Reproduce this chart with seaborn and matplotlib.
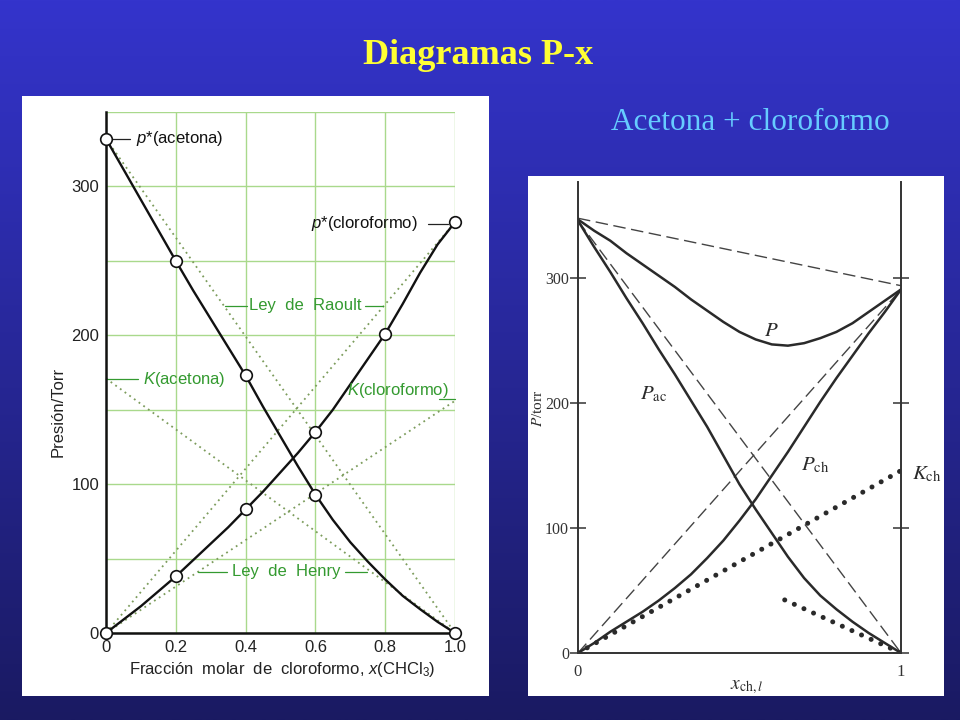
import numpy as np
import pandas as pd
import matplotlib
matplotlib.use("Agg")
import matplotlib.pyplot as plt
import seaborn as sns
from matplotlib.patches import Rectangle
from matplotlib.colors import LinearSegmentedColormap

sns.set_theme(style="white")
plt.rcParams["font.family"] = ["Liberation Sans", "DejaVu Sans"]
plt.rcParams["mathtext.fontset"] = "custom"
plt.rcParams["mathtext.rm"] = "Liberation Sans"
plt.rcParams["mathtext.it"] = "Liberation Sans:italic"

# ---------------- data: left panel (Torr vs x(CHCl3)) ----------------
x_left = [0.0, 0.05, 0.1, 0.15, 0.2, 0.25, 0.3, 0.35, 0.4, 0.45, 0.5,
          0.55, 0.6, 0.65, 0.7, 0.75, 0.8, 0.85, 0.9, 0.95, 1.0]
p_acetona = [332, 311.5, 291, 270.5, 250, 230, 211, 192, 173, 152, 132,
             112, 93, 76, 61, 48, 36, 25, 16, 7.5, 0]
p_cloroformo = [0, 9, 18, 28, 38, 49, 60, 71, 83, 95, 108,
                121, 135, 150, 167, 184, 201, 221, 242, 261, 276]
mark_x_ac = [0.0, 0.2, 0.4, 0.6, 1.0]
mark_p_ac = [332, 250, 173, 93, 0]
mark_x_ch = [0.0, 0.2, 0.4, 0.6, 0.8, 1.0]
mark_p_ch = [0, 38, 83, 135, 201, 276]
k_acetona = 171
k_cloroformo = 156
left_xticks = [0.0, 0.2, 0.4, 0.6, 0.8, 1.0]
left_xticklabels = ["0", "0.2", "0.4", "0.6", "0.8", "1.0"]
left_yticks = [0, 100, 200, 300]
left_yminor = [50, 150, 250, 350]

# ---------------- data: right panel (torr vs x_ch) ----------------
x_right = [0.0, 0.05, 0.1, 0.15, 0.2, 0.25, 0.3, 0.35, 0.4, 0.45, 0.5,
           0.55, 0.6, 0.65, 0.7, 0.75, 0.8, 0.85, 0.9, 0.95, 1.0]
P_total = [347, 338, 330, 320, 311, 302, 293, 283, 274, 265, 257,
           251, 247, 246, 248, 252, 257, 264, 273, 282, 291]
P_ac = [346, 325, 305, 284, 264, 243, 223, 202, 181, 158, 135,
        115, 96, 77, 60, 46, 35, 25, 16, 8, 0]
P_ch = [0, 8, 17, 25, 33, 42, 52, 63, 76, 90, 106,
        123, 142, 161, 181, 201, 220, 238, 256, 273, 291]
P_ideal_ends = [348, 294]
K_ch = 146
K_ac = 118
K_ac_start = 0.64
right_yticks = [0, 100, 200, 300]

# ---------------- figure & background ----------------
fig = plt.figure(figsize=(9.6, 7.2), dpi=100)
bg = fig.add_axes([0, 0, 1, 1], zorder=-10)
grad = np.linspace(0, 1, 256).reshape(-1, 1)
cmap = LinearSegmentedColormap.from_list("bg", ["#3434cc", "#1a1a62"])
bg.imshow(grad, aspect="auto", cmap=cmap, extent=[0, 1, 0, 1], origin="upper")
bg.axis("off")

fig.add_artist(Rectangle((22 / 960, 24 / 720), 467 / 960, 600 / 720,
                         transform=fig.transFigure, facecolor="white",
                         edgecolor="none", zorder=-5))
fig.add_artist(Rectangle((528 / 960, 24 / 720), 416 / 960, 520 / 720,
                         transform=fig.transFigure, facecolor="white",
                         edgecolor="none", zorder=-5))

fig.text(478 / 960, 1 - 64 / 720, "Diagramas P-x", family="Liberation Serif",
         weight="bold", color="#ffff33", fontsize=26, ha="center", va="baseline")
fig.text(750 / 960, 1 - 123 / 720, "Acetona + cloroformo", family="Liberation Serif",
         color="#66ccff", fontsize=22.5, ha="center", va="center")

# ---------------- left panel ----------------
ax1 = fig.add_axes([106 / 960, 87 / 720, 349 / 960, 521 / 720])
ax1.set_facecolor("none")
ax1.set_xlim(0, 1)
ax1.set_ylim(0, 350)
ax1.set_axisbelow(True)
ax1.set_xticks(left_xticks)
ax1.set_xticklabels(left_xticklabels)
ax1.set_yticks(left_yticks)
ax1.set_yticks(left_yminor, minor=True)
ax1.grid(True, which="both", color="#a9d98c", lw=1.0)
ax1.tick_params(length=0, labelsize=12, colors="#222222", pad=5)
ax1.tick_params(axis="y", which="minor", length=0)
for s in ["top", "right"]:
    ax1.spines[s].set_visible(False)
for s in ["left", "bottom"]:
    ax1.spines[s].set_color("#111111")
    ax1.spines[s].set_linewidth(1.8)

dotc = "#7c9c5c"
dotls = (0, (1, 2.2))
df_r1 = pd.DataFrame({"x": [0, 1], "p": [p_acetona[0], 0]})
df_r2 = pd.DataFrame({"x": [0, 1], "p": [0, p_cloroformo[-1]]})
df_h1 = pd.DataFrame({"x": [0, 1], "p": [k_acetona, 0]})
df_h2 = pd.DataFrame({"x": [0, 1], "p": [0, k_cloroformo]})
for d in (df_r1, df_r2, df_h1, df_h2):
    sns.lineplot(data=d, x="x", y="p", ax=ax1, color=dotc, lw=1.3,
                 linestyle=dotls, estimator=None, sort=False, clip_on=False)

df_ac = pd.DataFrame({"x": x_left, "p": p_acetona})
df_ch = pd.DataFrame({"x": x_left, "p": p_cloroformo})
for d in (df_ac, df_ch):
    sns.lineplot(data=d, x="x", y="p", ax=ax1, color="#111111", lw=1.7,
                 estimator=None, sort=False, clip_on=False)
sns.scatterplot(x=mark_x_ac, y=mark_p_ac, ax=ax1, s=70, facecolor="white",
                edgecolor="#111111", linewidth=1.2, zorder=5, clip_on=False)
sns.scatterplot(x=mark_x_ch, y=mark_p_ch, ax=ax1, s=70, facecolor="white",
                edgecolor="#111111", linewidth=1.2, zorder=5, clip_on=False)

green = "#349a30"
def leader(ax, x0, x1, y, c):
    ax.plot([x0, x1], [y, y], color=c, lw=0.9, clip_on=False)

leader(ax1, 0.003, 0.069, 332, "#222222")
ax1.text(0.085, 332, r"$p$*(acetona)", fontsize=12, va="center", ha="left",
         color="#111111", math_fontfamily="custom")
leader(ax1, 0.923, 0.98, 275, "#222222")
ax1.text(0.894, 275, r"$p$*(cloroformo)", fontsize=12, va="center", ha="right",
         color="#111111", math_fontfamily="custom")
leader(ax1, 0.341, 0.404, 220, green)
ax1.text(0.410, 220, "Ley  de  Raoult", fontsize=12, va="center", ha="left", color=green)
leader(ax1, 0.742, 0.794, 220, green)
leader(ax1, 0.003, 0.092, 170.5, green)
ax1.text(0.107, 170.5, r"$K$(acetona)", fontsize=12, va="center", ha="left",
         color=green, math_fontfamily="custom")
ax1.text(0.691, 163, r"$K$(cloroformo)", fontsize=12, va="center", ha="left",
         color=green, math_fontfamily="custom")
leader(ax1, 0.955, 1.0, 157, green)
leader(ax1, 0.264, 0.347, 41, green)
ax1.text(0.361, 41, "Ley  de  Henry", fontsize=12, va="center", ha="left", color=green)
leader(ax1, 0.685, 0.748, 41, green)

ax1.text(-0.138, 0.425, "Presión/Torr", rotation=90, transform=ax1.transAxes,
         fontsize=12, ha="center", va="center", color="#222222")
ax1.text(0.506, -0.071, r"Fracción  molar  de  cloroformo, $x$(CHCl$_3$)",
         transform=ax1.transAxes, fontsize=12, ha="center", va="center",
         color="#222222", math_fontfamily="custom")

# ---------------- right panel ----------------
ax2 = fig.add_axes([578 / 960, 67 / 720, 323 / 960, 471 / 720])
ax2.set_facecolor("none")
ax2.set_xlim(0, 1)
ax2.set_ylim(0, 377)
ax2.spines["top"].set_visible(False)
for s in ["left", "right", "bottom"]:
    ax2.spines[s].set_color("#333333")
    ax2.spines[s].set_linewidth(1.4)
ax2.set_yticks(right_yticks)
ax2.set_yticklabels([str(v) for v in right_yticks], family="Liberation Serif", fontsize=11.5)
ax2.set_xticks([0, 1])
ax2.set_xticklabels(["0", "1"], family="Liberation Serif", fontsize=12)
ax2.tick_params(axis="y", direction="inout", length=11, width=1.1, color="#333333",
                right=True, left=True, pad=1, labelcolor="#333333")
ax2.tick_params(axis="x", length=0, pad=8, labelcolor="#333333")

dark = "#2a2a2a"
dash = (0, (9, 4))
df_id = pd.DataFrame({"x": [0, 1], "p": P_ideal_ends})
df_ra = pd.DataFrame({"x": [0, 1], "p": [P_ac[0], 0]})
df_rc = pd.DataFrame({"x": [0, 1], "p": [0, P_ch[-1]]})
for d in (df_id, df_ra, df_rc):
    sns.lineplot(data=d, x="x", y="p", ax=ax2, color="#444444", lw=1.0,
                 linestyle=dash, estimator=None, sort=False)

for vals in (P_total, P_ac, P_ch):
    d = pd.DataFrame({"x": x_right, "p": vals})
    sns.lineplot(data=d, x="x", y="p", ax=ax2, color=dark, lw=1.8,
                 estimator=None, sort=False)

dots = (0, (0.01, 2.1))
df_kch = pd.DataFrame({"x": [0, 1], "p": [0, K_ch]})
df_kac = pd.DataFrame({"x": [K_ac_start, 1], "p": [K_ac * (1 - K_ac_start), 0]})
for d in (df_kch, df_kac):
    sns.lineplot(data=d, x="x", y="p", ax=ax2, color=dark, lw=3.6,
                 linestyle=dots, dash_capstyle="round", estimator=None, sort=False)

ax2.text(0.60, 258, r"$P$", fontsize=15, ha="center", va="center", color=dark,
         math_fontfamily="stix")
ax2.text(0.235, 207, r"$P_{\rm ac}$", fontsize=15, ha="center", va="center", color=dark,
         math_fontfamily="stix")
ax2.text(0.735, 150, r"$P_{\rm ch}$", fontsize=15, ha="center", va="center", color=dark,
         math_fontfamily="stix")
ax2.text(1.08, 143, r"$K_{\rm ch}$", fontsize=15, ha="center", va="center", color=dark,
         math_fontfamily="stix", clip_on=False)
ax2.text(-0.125, 0.52, r"$P$/torr", rotation=90, transform=ax2.transAxes, fontsize=11,
         ha="center", va="center", color=dark, math_fontfamily="stix",
         family="Liberation Serif")
ax2.text(0.523, -0.072, r"$x_{\mathrm{ch},l}$", transform=ax2.transAxes, fontsize=14,
         ha="center", va="center", color=dark, math_fontfamily="stix")

ax1.set_xlabel("")
ax1.set_ylabel("")
ax2.set_xlabel("")
ax2.set_ylabel("")

fig.savefig("out.png", dpi=100)
